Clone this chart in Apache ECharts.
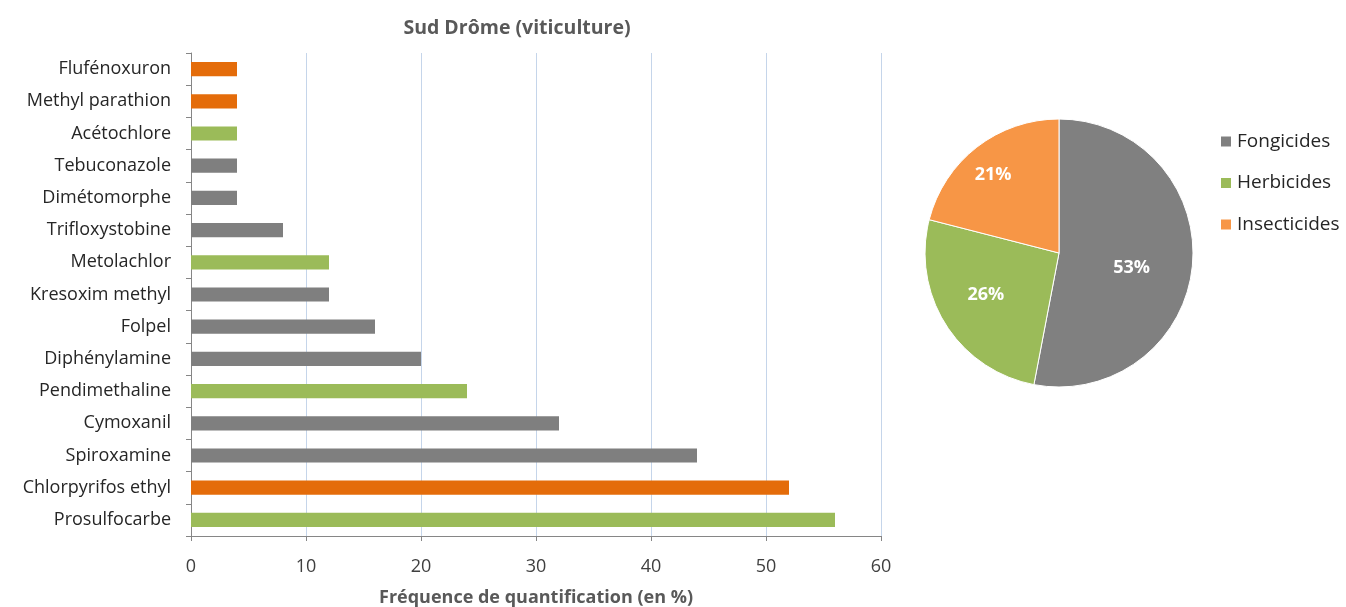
<!DOCTYPE html>
<html>
<head>
<meta charset="utf-8">
<script src="https://cdn.jsdelivr.net/npm/echarts@6/dist/echarts.min.js"></script>
<style>
  html, body { margin: 0; padding: 0; background: #fff; }
  #chart { width: 1346px; height: 607px; }
</style>
</head>
<body>
<div id="chart"></div>
<script>
// Substances quantified, listed top to bottom
const substances = [
  'Flufénoxuron', 'Methyl parathion', 'Acétochlore', 'Tebuconazole', 'Dimétomorphe',
  'Trifloxystobine', 'Metolachlor', 'Kresoxim methyl', 'Folpel', 'Diphénylamine',
  'Pendimethaline', 'Cymoxanil', 'Spiroxamine', 'Chlorpyrifos ethyl', 'Prosulfocarbe'
];
// Quantification frequency (%)
const frequencies = [4, 4, 4, 4, 4, 8, 12, 12, 16, 20, 24, 32, 44, 52, 56];
// Family of each substance: F = fongicide, H = herbicide, I = insecticide
const families = ['I', 'I', 'H', 'F', 'F', 'F', 'H', 'F', 'F', 'F', 'H', 'F', 'F', 'I', 'H'];

const xTicks = [0, 10, 20, 30, 40, 50, 60];

// Share of each family
const pieCategories = ['Fongicides', 'Herbicides', 'Insecticides'];
const pieShares = [53, 26, 21];

const barColors = { F: '#7F7F7F', H: '#9BBB59', I: '#E46C0A' };
const pieColors = ['#808080', '#9BBB59', '#F79646'];
// nudges so each percentage sits where it reads best inside its slice
const pieLabelOffsets = [[3, 8], [-14, 4], [-23, -23]];

const font = '"Open Sans", "Noto Sans", sans-serif';

const chart = echarts.init(document.getElementById('chart'));
chart.setOption({
  animation: false,
  textStyle: { fontFamily: font },
  title: {
    text: 'Sud Drôme (viticulture)',
    left: 512, top: 13, textAlign: 'center',
    textStyle: { fontFamily: font, fontSize: 19.5, fontWeight: 'bold', color: '#595959' }
  },
  legend: {
    orient: 'vertical',
    left: 1214, top: 127,
    itemWidth: 12, itemHeight: 12, itemGap: 22.5,
    icon: 'rect',
    data: pieCategories,
    textStyle: { fontFamily: font, fontSize: 19, color: '#262626' }
  },
  grid: {
    left: 191, right: 1346 - 881, top: 53, bottom: 607 - 536,
    containLabel: false, outerBoundsMode: 'none'
  },
  xAxis: {
    type: 'value', min: 0, max: 60, interval: 10,
    name: 'Fréquence de quantification (en %)',
    nameLocation: 'middle', nameGap: 53,
    nameTextStyle: { fontFamily: font, fontSize: 18, fontWeight: 'bold', color: '#595959' },
    axisLine: { show: true, lineStyle: { color: '#868686' } },
    axisTick: { show: true, length: 5, lineStyle: { color: '#868686' } },
    axisLabel: {
      fontFamily: font, fontSize: 18, color: '#404040', margin: 22,
      formatter: v => xTicks.includes(v) ? String(v) : ''
    },
    splitLine: { show: true, lineStyle: { color: '#C5D5EA', width: 1 } }
  },
  yAxis: {
    type: 'category', data: substances, inverse: true,
    axisLine: { show: true, lineStyle: { color: '#868686' } },
    axisTick: { show: true, length: 5, lineStyle: { color: '#868686' } },
    axisLabel: { fontFamily: font, fontSize: 18, color: '#262626', margin: 20 },
    splitLine: { show: false }
  },
  series: [
    {
      type: 'bar',
      data: frequencies.map((v, i) => ({ value: v, itemStyle: { color: barColors[families[i]] } })),
      barCategoryGap: '56%'
    },
    {
      type: 'pie',
      center: [1059, 253], radius: 134,
      startAngle: 90, clockwise: true,
      data: pieCategories.map((n, i) => ({
        name: n, value: pieShares[i],
        itemStyle: { color: pieColors[i] },
        label: { offset: pieLabelOffsets[i] }
      })),
      itemStyle: { borderColor: '#fff', borderWidth: 1 },
      label: {
        position: 'inside', formatter: '{c}%',
        fontFamily: font, fontSize: 18, fontWeight: 'bold', color: '#fff'
      },
      labelLine: { show: false }
    }
  ]
});
</script>
</body>
</html>
